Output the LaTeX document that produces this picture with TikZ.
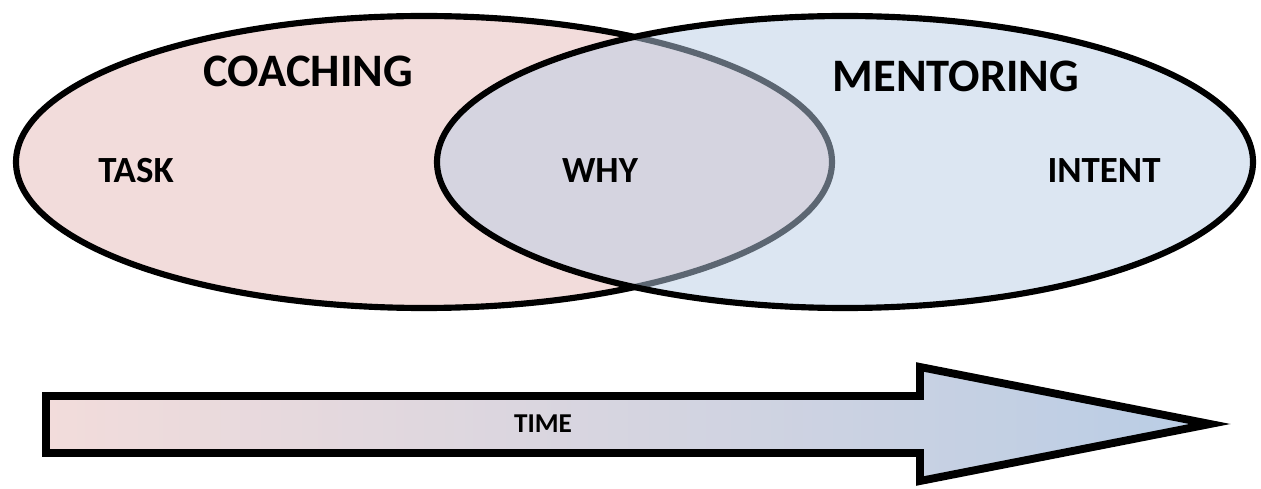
\documentclass[tikz,border=0pt]{standalone}
\usepackage{fontspec}
\setmainfont{Carlito}
\usepackage{tikz}
\usetikzlibrary{calc}

\definecolor{coachpink}{RGB}{242,220,219}
\definecolor{mentorblue}{RGB}{185,205,229}

\tikzset{
  bigword/.style={font=\bfseries\fontsize{26.5}{30}\selectfont, anchor=base},
  smallword/.style={font=\bfseries\fontsize{21}{24}\selectfont, anchor=base},
}

\begin{document}
\begin{tikzpicture}[x=0.02cm, y=-0.02cm]
\useasboundingbox (0,0) rectangle (1261,489);
% the two circles
\draw[line width=3.5pt, fill=coachpink] (424,162) ellipse [x radius=408, y radius=146];
\draw[line width=3.5pt, fill=mentorblue, fill opacity=0.5] (845,162) ellipse [x radius=408, y radius=146];
\path
(308,87) node[bigword] (coaching) {COACHING};
\path
(956,92) node[bigword] (mentoring) {MENTORING};
\path
(136,183) node[smallword] (task) {TASK};
\path
(600,183) node[smallword] (why) {WHY};
\path
(1104,183) node[smallword] (intent) {INTENT};
% time arrow
\draw[line width=4.5pt, line join=miter, left color=coachpink, right color=mentorblue]
(46,396)--(920,396)--(920,367)--(1210,424)--(920,481)--(920,453)--(46,453)--cycle;
\path
(543,433) node[font=\bfseries\fontsize{15.5}{18}\selectfont, anchor=base] (time) {TIME};
\end{tikzpicture}
\end{document}
